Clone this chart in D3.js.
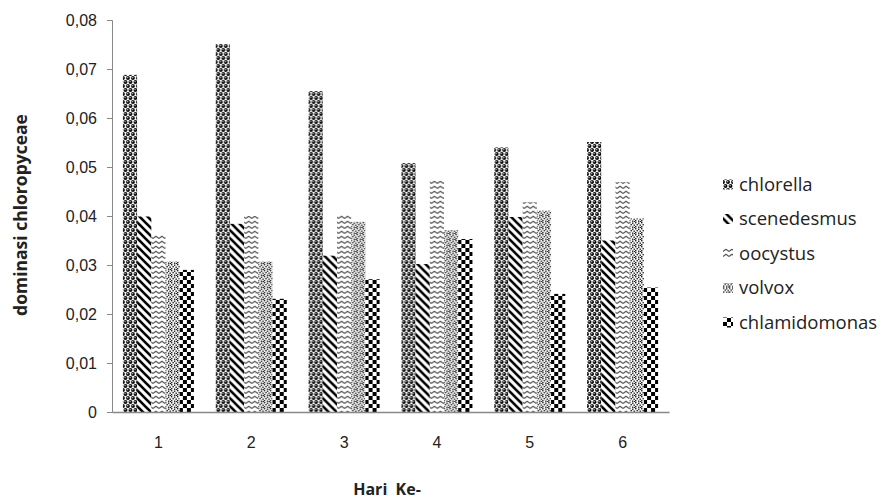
<!DOCTYPE html>
<html>
<head>
<meta charset="utf-8">
<script src="https://cdn.jsdelivr.net/npm/d3@7"></script>
<style>
  body { margin: 0; background: #fff; }
  svg { font-family: "Open Sans", sans-serif; }
</style>
</head>
<body>
<svg id="chart" width="894" height="500"></svg>
<script>
// data
const days = ["1", "2", "3", "4", "5", "6"];
const species = ["chlorella", "scenedesmus", "oocystus", "volvox", "chlamidomonas"];
const chlorella = [0.0688, 0.0751, 0.0655, 0.0508, 0.0540, 0.0551];
const scenedesmus = [0.0399, 0.0384, 0.0319, 0.0302, 0.0398, 0.0350];
const oocystus = [0.0361, 0.0400, 0.0404, 0.0472, 0.0428, 0.0469];
const volvox = [0.0307, 0.0307, 0.0388, 0.0371, 0.0411, 0.0395];
const chlamidomonas = [0.0290, 0.0231, 0.0271, 0.0353, 0.0241, 0.0254];
const yTicks = [0, 0.01, 0.02, 0.03, 0.04, 0.05, 0.06, 0.07, 0.08];

const seriesValues = [chlorella, scenedesmus, oocystus, volvox, chlamidomonas];

const svg = d3.select("#chart");
const defs = svg.append("defs");

// fill patterns (black & white like the original)
function makePattern(id, w, h, draw) {
    const p = defs.append("pattern")
        .attr("id", id)
        .attr("patternUnits", "userSpaceOnUse")
        .attr("width", w)
        .attr("height", h);
    draw(p);
}

// chlorella: "sphere" pattern, staggered balls
makePattern("p0", 5, 8, p => {
    p.append("rect").attr("width", 5).attr("height", 8).attr("fill", "#fff");
    [[2.5, 2], [0, 6], [5, 6]].forEach(([cx, cy]) => {
        p.append("circle").attr("cx", cx).attr("cy", cy).attr("r", 1.95).attr("fill", "#000");
        p.append("circle").attr("cx", cx - 0.4).attr("cy", cy - 0.4).attr("r", 0.8).attr("fill", "#aaa");
    });
});
// scenedesmus: wide downward diagonal
makePattern("p1", 8, 8, p => {
    p.append("rect").attr("width", 8).attr("height", 8).attr("fill", "#fff");
    p.append("path").attr("d", "M-1,-1L9,9M-5,3L1,9M3,-5L9,1")
        .attr("stroke", "#000").attr("stroke-width", 2.6);
});
// oocystus: zigzag waves
makePattern("p2", 6, 5, p => {
    p.append("rect").attr("width", 6).attr("height", 5).attr("fill", "#fff");
    p.append("path").attr("d", "M0,3.5L3,1.3L6,3.5")
        .attr("stroke", "#555").attr("stroke-width", 1.1).attr("fill", "none");
});
// volvox: small confetti
makePattern("p3", 6, 6, p => {
    p.append("rect").attr("width", 6).attr("height", 6).attr("fill", "#fff");
    [[0, 0], [3, 0.5], [1.5, 2], [4.5, 2.5], [0, 4], [3, 4.5], [5, 5]].forEach(([x, y]) => {
        p.append("rect").attr("x", x).attr("y", y).attr("width", 1.4).attr("height", 1.4).attr("fill", "#111");
    });
});
// chlamidomonas: large checkerboard
makePattern("p4", 8, 8, p => {
    p.append("rect").attr("width", 8).attr("height", 8).attr("fill", "#fff");
    p.append("rect").attr("width", 4).attr("height", 4).attr("fill", "#000");
    p.append("rect").attr("x", 4).attr("y", 4).attr("width", 4).attr("height", 4).attr("fill", "#000");
});

const plotLeft = 112, plotRight = 669, plotTop = 20, plotBottom = 412;

const x0 = d3.scaleBand()
    .domain(days)
    .range([plotLeft, plotRight])
    .paddingInner(0.235)
    .paddingOuter(0.1175);

const x1 = d3.scaleBand()
    .domain(species)
    .range([0, x0.bandwidth()]);

const y = d3.scaleLinear()
    .domain([0, 0.08])
    .range([plotBottom, plotTop]);

const fmt = d => d === 0 ? "0" : d3.format(".2f")(d).replace(".", ",");

// bars
const groups = svg.append("g").selectAll("g")
    .data(days)
    .join("g")
    .attr("transform", d => `translate(${x0(d)},0)`);

groups.selectAll("rect")
    .data((d, i) => species.map((s, k) => ({s, k, v: seriesValues[k][i]})))
    .join("rect")
    .attr("x", d => x1(d.s))
    .attr("y", d => y(d.v))
    .attr("width", x1.bandwidth())
    .attr("height", d => y(0) - y(d.v))
    .attr("fill", d => `url(#p${d.k})`);

// y axis
const yAxis = svg.append("g")
    .attr("transform", `translate(${plotLeft},0)`)
    .call(d3.axisLeft(y).tickValues(yTicks).tickFormat(fmt).tickSizeOuter(0).tickSize(5).tickPadding(10));
yAxis.select(".domain").attr("stroke", "#888");
yAxis.selectAll(".tick line").attr("stroke", "#888");
yAxis.selectAll("text").attr("fill", "#222").style("font-size", "16px");

// x axis
const xAxis = svg.append("g")
    .attr("transform", `translate(0,${plotBottom})`)
    .call(d3.axisBottom(x0).tickSize(0).tickSizeOuter(0).tickPadding(25));
xAxis.select(".domain").attr("stroke", "#888").attr("stroke-width", 1.5);
xAxis.selectAll("text").attr("fill", "#222").style("font-size", "16px");

// axis titles
svg.append("text")
    .attr("x", 387)
    .attr("y", 495)
    .attr("text-anchor", "middle")
    .style("font-size", "16px")
    .style("font-weight", "bold")
    .attr("fill", "#222")
    .attr("xml:space", "preserve")
    .text("Hari  Ke-");

svg.append("text")
    .attr("transform", "translate(27,215) rotate(-90)")
    .attr("text-anchor", "middle")
    .style("font-size", "17.5px")
    .style("font-weight", "bold")
    .attr("fill", "#222")
    .text("dominasi chloropyceae");

// legend
const legend = svg.append("g").selectAll("g")
    .data(species)
    .join("g")
    .attr("transform", (d, i) => `translate(723,${184 + i * 34.5})`);

legend.append("rect")
    .attr("x", 0)
    .attr("y", -4.5)
    .attr("width", 10)
    .attr("height", 10)
    .attr("fill", (d, i) => `url(#p${i})`);

legend.append("text")
    .attr("x", 16)
    .attr("y", 6.5)
    .style("font-size", "18.5px")
    .attr("fill", "#222")
    .text(d => d);
</script>
</body>
</html>
